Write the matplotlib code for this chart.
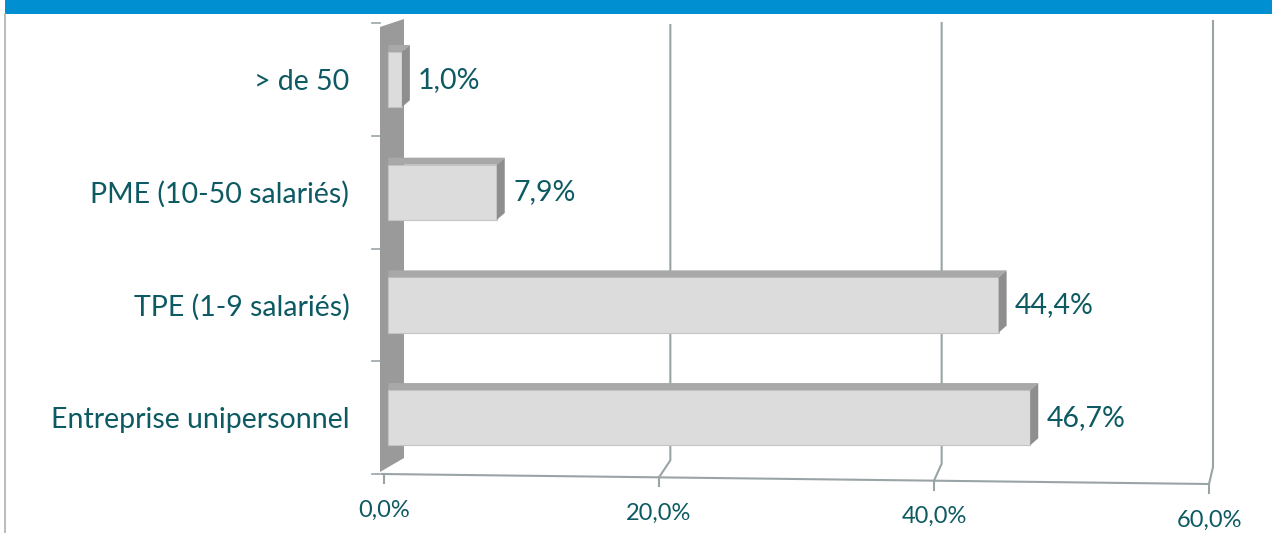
import matplotlib
matplotlib.use("Agg")
import matplotlib.pyplot as plt
from matplotlib.patches import Polygon, Rectangle
from matplotlib.lines import Line2D

categories = ["Entreprise unipersonnel", "TPE (1-9 salariés)", "PME (10-50 salariés)", "> de 50"]
values = [46.7, 44.4, 7.9, 1.0]
value_labels = ["46,7%", "44,4%", "7,9%", "1,0%"]
xticks = [0, 20, 40, 60]
xtick_labels = ["0,0%", "20,0%", "40,0%", "60,0%"]

TEXT = "#0d5a63"
FRONT = "#dcdcdc"
TOP = "#a8a8a8"
SIDE = "#8e8e8e"
WALL = "#9a9a9a"
GRID = "#9aa4a7"
FONT = ["Lato", "DejaVu Sans"]

W, H = 1272, 533
fig = plt.figure(figsize=(W / 100, H / 100), dpi=100)

# axes placed so x 0..60 spans px 384..1209 and y -0.5..3.5 spans px 474..23
x0, x1 = 384, 1209
ylo, yhi = -0.5, 3.52
py_lo, py_hi = 474, 21
ax = fig.add_axes([x0 / W, 1 - py_lo / H, (x1 - x0) / W, (py_lo - py_hi) / H])
ax.set_xlim(0, 60)
ax.set_ylim(ylo, yhi)
for s in ax.spines.values():
    s.set_visible(False)
ax.set_xticks([])

sx = 60 / (x1 - x0)            # data per px (x)
sy = (yhi - ylo) / (py_lo - py_hi)  # data per px (y)

def floor_y(x):
    return ylo - (x / 60) * 10 * sy

# header band and frame
fig.add_artist(Rectangle((5 / W, 1 - 14 / H), 1 - 5 / W, 14 / H, transform=fig.transFigure,
                         facecolor="#008fd1", edgecolor="none"))
fig.add_artist(Line2D([5 / W, 5 / W], [0, 1 - 14 / H], transform=fig.transFigure,
                      color="#b0b0b0", lw=1.2))

# back wall (left)
wall = Polygon([(-4 * sx, ylo + 2 * sy), (-4 * sx, yhi - 6 * sy),
                (20 * sx, yhi + 2 * sy), (20 * sx, ylo + 16 * sy)],
               closed=True, facecolor=WALL, edgecolor="none", clip_on=False, zorder=1)
ax.add_patch(wall)
# small ticks left of wall at category boundaries
for b in [i - 0.5 for i in range(len(categories) + 1)]:
    ax.plot([-12 * sx, -4 * sx], [b, b], color=GRID, lw=1.2, clip_on=False, zorder=1)

# floor line
ax.plot([-2 * sx, 60], [floor_y(0), floor_y(60)], color=GRID, lw=1.5, clip_on=False, zorder=1)

# gridlines (back) with slanted link to front ticks
for t, lab in zip(xticks, xtick_labels):
    fy = floor_y(t)
    if t > 0:
        bx = t + (15 - t / 60 * 11) * sx
        by = fy + 17 * sy
        ax.plot([t, bx, bx], [fy, by, yhi - (6 - t / 20 * 2) * sy], color=GRID, lw=1.5,
                clip_on=False, zorder=1)
    ax.plot([t, t], [fy, fy - 9 * sy], color=GRID, lw=1.5, clip_on=False, zorder=1)
    ax.text(t, fy - 36 * sy, lab, ha="center", va="center", fontsize=17,
            color=TEXT, family=FONT, clip_on=False)

# bars with faux 3D
h = 0.49
dx, dy = 8 * sx, 7 * sy
ypos = list(range(len(categories)))
ax.barh(ypos, values, height=h, left=0.3, color=FRONT, edgecolor="#c4c4c4", lw=0.8, zorder=3)
for y, v, lab in zip(ypos, values, value_labels):
    top = y + h / 2
    bot = y - h / 2
    left = 0.3
    ax.add_patch(Polygon([(left, top), (left + v, top), (left + v + dx, top + dy), (left - 0.15 + dx * 0.3, top + dy)],
                         closed=True, facecolor=TOP, edgecolor="none", zorder=3))
    ax.add_patch(Polygon([(left + v, bot), (left + v, top), (left + v + dx, top + dy), (left + v + dx, bot + dy)],
                         closed=True, facecolor=SIDE, edgecolor="none", zorder=3))
    ax.annotate(lab, xy=(left + v + dx, y), xytext=(6, 0), textcoords="offset points",
                ha="left", va="center", fontsize=20.5, color=TEXT, family=FONT)

ax.set_yticks(ypos)
ax.set_yticklabels(categories, fontsize=20.5, color=TEXT, family=FONT)
ax.tick_params(axis="y", length=0, pad=25)

fig.savefig("out.png", dpi=100)
